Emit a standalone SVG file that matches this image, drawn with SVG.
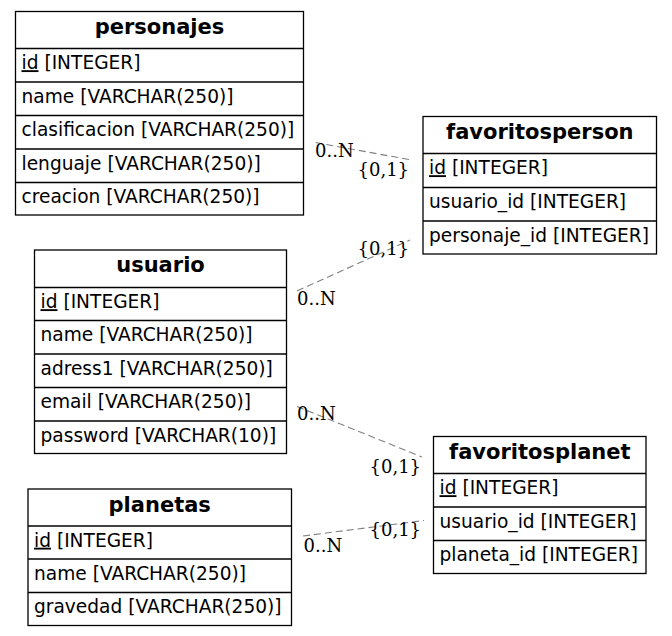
<svg xmlns="http://www.w3.org/2000/svg" width="672" height="636" viewBox="0 0 672 636">
<style>
  .box { fill: #ffffff; stroke: #000000; stroke-width: 1.3; }
  .sep { stroke: #000000; stroke-width: 1.3; }
  .hdr { font-family: "DejaVu Sans", "Liberation Sans", sans-serif; font-weight: bold; font-size: 21px; text-anchor: middle; fill: #000; }
  .fld { font-family: "DejaVu Sans", "Liberation Sans", sans-serif; font-size: 18.6px; fill: #000; }
  .pk { text-decoration: underline; text-decoration-color: #555; }
  .edge { stroke: #808080; stroke-width: 1.1; stroke-dasharray: 7,4; fill: none; }
  .lbl { font-family: "DejaVu Serif", "Liberation Serif", serif; font-size: 18px; fill: #000; }
</style>
<rect width="672" height="636" fill="#ffffff"/>

<g id="connectors">
  <line class="edge" x1="315.5" y1="142.5" x2="411.5" y2="160"/>
  <text class="lbl" x="315" y="157">0..N</text>
  <text class="lbl" x="357.5" y="175.5">{0,1}</text>

  <line class="edge" x1="297" y1="291" x2="410" y2="240"/>
  <text class="lbl" x="297" y="305">0..N</text>
  <text class="lbl" x="357.5" y="254.5">{0,1}</text>

  <line class="edge" x1="297" y1="406.5" x2="422" y2="457"/>
  <text class="lbl" x="297" y="419.5">0..N</text>
  <text class="lbl" x="369.5" y="472.5">{0,1}</text>

  <line class="edge" x1="303" y1="536" x2="424" y2="520.5"/>
  <text class="lbl" x="303.5" y="551.5">0..N</text>
  <text class="lbl" x="369.5" y="535.5">{0,1}</text>
</g>

<g id="personajes">
  <rect class="box" x="15.5" y="11.5" width="288" height="203.5"/>
  <line class="sep" x1="15.5" y1="48.5" x2="303.5" y2="48.5"/>
  <line class="sep" x1="15.5" y1="82" x2="303.5" y2="82"/>
  <line class="sep" x1="15.5" y1="115.5" x2="303.5" y2="115.5"/>
  <line class="sep" x1="15.5" y1="149" x2="303.5" y2="149"/>
  <line class="sep" x1="15.5" y1="182.5" x2="303.5" y2="182.5"/>
  <text class="hdr" x="159.5" y="33.5">personajes</text>
  <text class="fld" x="21.5" y="69.2"><tspan class="pk">id</tspan> [INTEGER]</text>
  <text class="fld" x="21.5" y="102.7">name [VARCHAR(250)]</text>
  <text class="fld" x="21.5" y="136.2">clasificacion [VARCHAR(250)]</text>
  <text class="fld" x="21.5" y="169.7">lenguaje [VARCHAR(250)]</text>
  <text class="fld" x="21.5" y="203.2">creacion [VARCHAR(250)]</text>
</g>

<g id="favoritosperson">
  <rect class="box" x="423" y="116.5" width="233.5" height="137.5"/>
  <line class="sep" x1="423" y1="153.5" x2="656.5" y2="153.5"/>
  <line class="sep" x1="423" y1="187.5" x2="656.5" y2="187.5"/>
  <line class="sep" x1="423" y1="221" x2="656.5" y2="221"/>
  <text class="hdr" x="539.8" y="138.5">favoritosperson</text>
  <text class="fld" x="429" y="174.2"><tspan class="pk">id</tspan> [INTEGER]</text>
  <text class="fld" x="429" y="208.2">usuario_id [INTEGER]</text>
  <text class="fld" x="429" y="241.7">personaje_id [INTEGER]</text>
</g>

<g id="usuario">
  <rect class="box" x="34.5" y="250" width="252" height="203.5"/>
  <line class="sep" x1="34.5" y1="287.5" x2="286.5" y2="287.5"/>
  <line class="sep" x1="34.5" y1="320.5" x2="286.5" y2="320.5"/>
  <line class="sep" x1="34.5" y1="354" x2="286.5" y2="354"/>
  <line class="sep" x1="34.5" y1="387.5" x2="286.5" y2="387.5"/>
  <line class="sep" x1="34.5" y1="421" x2="286.5" y2="421"/>
  <text class="hdr" x="160.5" y="272">usuario</text>
  <text class="fld" x="40.5" y="308.2"><tspan class="pk">id</tspan> [INTEGER]</text>
  <text class="fld" x="40.5" y="341.2">name [VARCHAR(250)]</text>
  <text class="fld" x="40.5" y="374.7">adress1 [VARCHAR(250)]</text>
  <text class="fld" x="40.5" y="408.2">email [VARCHAR(250)]</text>
  <text class="fld" x="40.5" y="441.7">password [VARCHAR(10)]</text>
</g>

<g id="planetas">
  <rect class="box" x="28" y="489" width="263.5" height="136.5"/>
  <line class="sep" x1="28" y1="526" x2="291.5" y2="526"/>
  <line class="sep" x1="28" y1="559" x2="291.5" y2="559"/>
  <line class="sep" x1="28" y1="592.5" x2="291.5" y2="592.5"/>
  <text class="hdr" x="159.7" y="511.5">planetas</text>
  <text class="fld" x="34" y="546.7"><tspan class="pk">id</tspan> [INTEGER]</text>
  <text class="fld" x="34" y="579.7">name [VARCHAR(250)]</text>
  <text class="fld" x="34" y="613.2">gravedad [VARCHAR(250)]</text>
</g>

<g id="favoritosplanet">
  <rect class="box" x="433.5" y="436.5" width="212.5" height="137"/>
  <line class="sep" x1="433.5" y1="473.5" x2="646" y2="473.5"/>
  <line class="sep" x1="433.5" y1="507" x2="646" y2="507"/>
  <line class="sep" x1="433.5" y1="540.5" x2="646" y2="540.5"/>
  <text class="hdr" x="539.8" y="458.5">favoritosplanet</text>
  <text class="fld" x="439.5" y="494.2"><tspan class="pk">id</tspan> [INTEGER]</text>
  <text class="fld" x="439.5" y="527.7">usuario_id [INTEGER]</text>
  <text class="fld" x="439.5" y="561.2">planeta_id [INTEGER]</text>
</g>
</svg>
